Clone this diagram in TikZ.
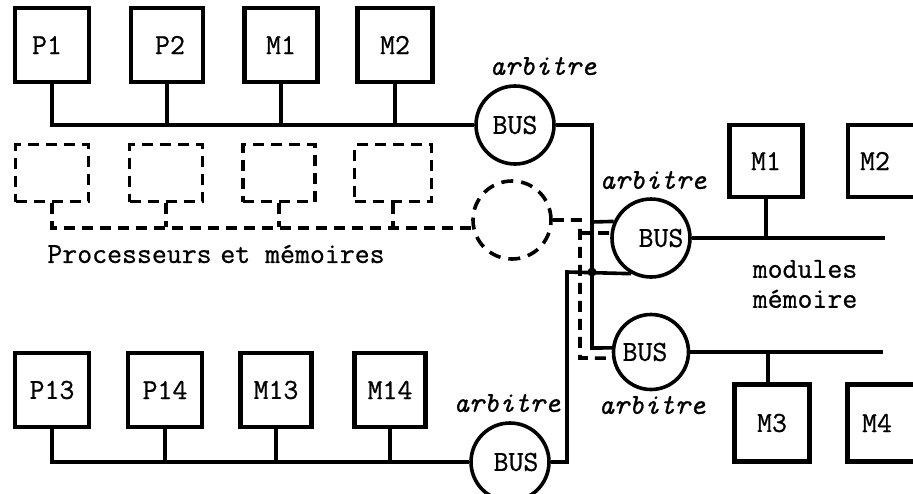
\documentclass[tikz,border=0pt]{standalone}
\usepackage{fontspec}
\newfontfamily\cour{Latin Modern Mono}[FakeBold=0.7]
\begin{document}
\begin{tikzpicture}[x=1pt,y=-1pt,
  every node/.style={font=\cour\fontsize{29}{30}\selectfont},
  box/.style={draw, line width=4.2pt, minimum width=74pt, minimum height=74pt, inner sep=0pt},
  dbox/.style={draw, line width=3.6pt, dash pattern=on 11pt off 7pt, minimum width=73pt, minimum height=57pt, inner sep=0pt},
  arb/.style={draw, circle, line width=3.6pt, minimum size=78pt, inner sep=0pt},
  darb/.style={arb, dash pattern=on 12pt off 8pt},
  wire/.style={line width=3.6pt},
  dwire/.style={line width=3.6pt, dash pattern=on 11pt off 7pt},
  lbl/.style={font=\cour\itshape\fontsize{29}{30}\selectfont}]
\useasboundingbox (0,0) rectangle (913,493);

% top group
\node[box] (P1) at (52,45) {P1\hspace*{10pt}};
\node[box, minimum width=72pt] (P2) at (167,45) {\hspace*{6pt}P2};
\node[box, minimum width=73pt] (M1a) at (281,45) {M1};
\node[box, minimum width=75pt] (M2a) at (395,45) {M2};
\node[arb] (busT) at (515,125) {BUS};
\node[lbl] (aT) at (543,66) {arbitre};

% dashed group
\node[dbox] (D1) at (52,173) {};
\node[dbox] (D2) at (166,173) {};
\node[dbox, minimum width=72pt] (D3) at (279,173) {};
\node[dbox, minimum width=77pt] (D4) at (393,173) {};
\node[darb] (dC) at (512,220) {};
\node (pm) at (216,254) {Processeurs\hspace{0.3em}et mémoires};

% bottom group
\node[box] (P13) at (52,390) {P13};
\node[box] (P14) at (165,390) {P14};
\node[box, minimum width=71pt] (M13) at (276,390) {M13};
\node[box, minimum width=71pt] (M14) at (390,390) {M14};
\node[arb] (busB) at (510,462) {\hspace*{12pt}BUS};
\node[lbl] (aB) at (507,403) {arbitre};

% memory side
\node[arb] (busM) at (651,238) {\hspace*{20pt}BUS};
\node[lbl] (aM) at (653,180) {arbitre};
\node[arb, minimum size=75pt] (busL) at (651,352) {BUS\hspace*{12pt}};
\node[lbl] (aL) at (652,405) {arbitre};
\node[box, minimum width=73pt, minimum height=72pt] (M1b) at (766,161) {M1};
\node[box, minimum width=76pt, minimum height=72pt] (M2b) at (886,161) {M2\hspace*{22pt}};
\node[box, minimum width=75pt, minimum height=77pt] (M3) at (772,423) {M3};
\node[box, minimum width=77pt, minimum height=77pt] (M4) at (886,423) {M4\hspace*{18pt}};
\node[align=center] (mm) at (805,284) {modules\\mémoire};

% coordinates
\coordinate (j1) at (592,125);
\coordinate (j2) at (592,222);
\coordinate (dot) at (592,272);
\coordinate (j3) at (592,348);
\coordinate (kt) at (567,272);
\coordinate (kb) at (567,462);
\coordinate (d1) at (580,220);
\coordinate (d2) at (580,233);
\coordinate (d3) at (580,358);
\coordinate (rM) at (885,238);
\coordinate (rL) at (883,352);

% top bus
\draw[wire] (P1.south) |- (busT.west);
\foreach \n in {P2,M1a,M2a} \draw[wire] (\n.south) -- (\n.south |- busT.west);
\draw[wire] (busT.east) -- (j1) -- (j3) -- (busL.174);
\draw[wire] (j2) -- (busM.156);
\draw[wire] (busB.east) -- (kb) -- (kt) -- (busM.241);
\fill (dot) circle (4.5pt);

% dashed bus
\draw[dwire] (D1.south) |- (dC.191);
\foreach \n in {D2,D3,D4} \draw[dwire] (\n.south) -- (\n.south |- 0,227);
\draw[dwire] (dC.east) -- (d1) -- (d3) -- (busL.189);
\draw[dwire] (d2) -- (busM.173);

% bottom bus
\draw[wire] (P13.south) |- (busB.west);
\foreach \n in {P14,M13,M14} \draw[wire] (\n.south) -- (\n.south |- busB.west);

% memory buses
\draw[wire] (busM.east) -- (rM);
\draw[wire] (M1b.south) -- (M1b.south |- rM);
\draw[wire] (busL.east) -- (rL);
\draw[wire] (M3.north -| 768,0) -- (768,352);
\end{tikzpicture}
\end{document}
